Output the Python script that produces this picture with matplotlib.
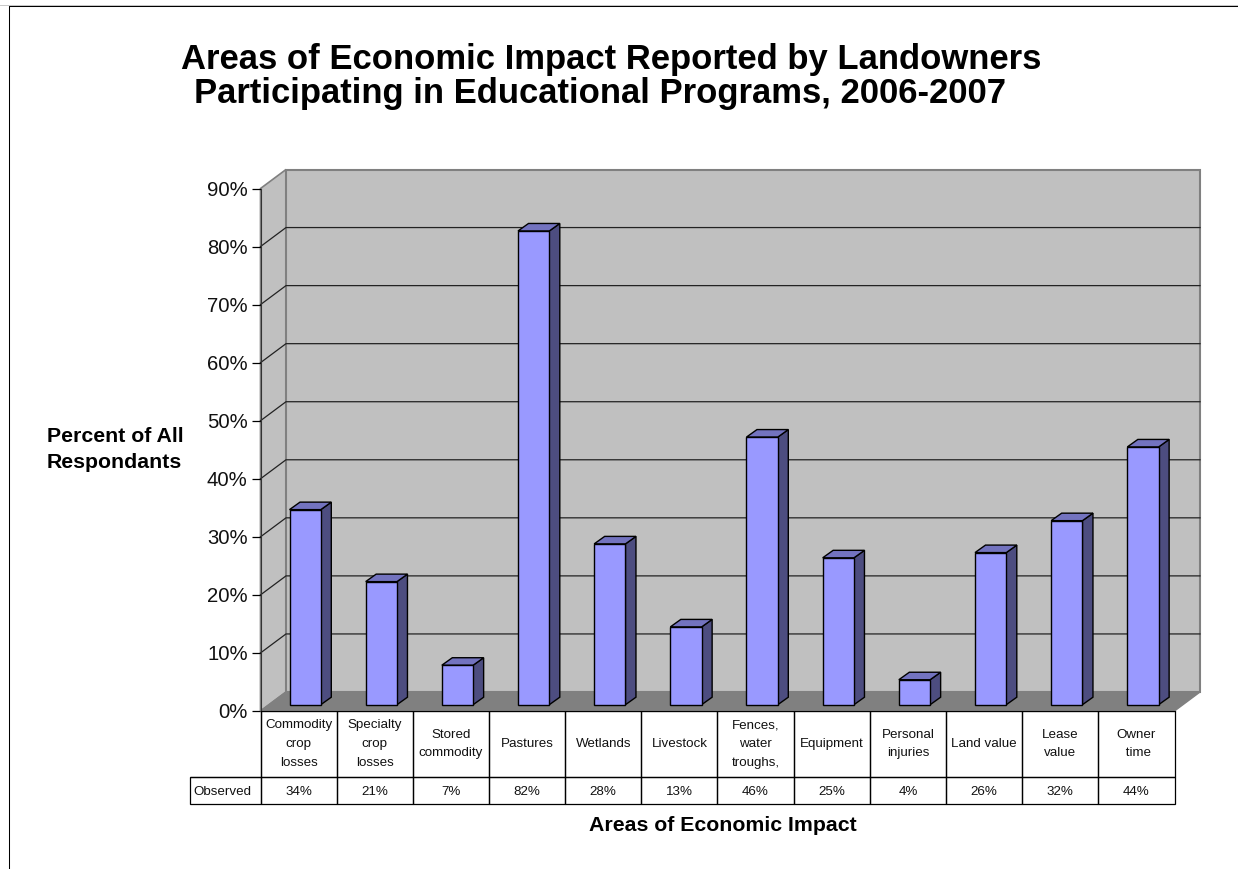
#!/usr/bin/python3
import matplotlib
matplotlib.use('Agg')
import matplotlib.pyplot as plt
from matplotlib.lines import Line2D

plt.rcParams['font.family'] = ['Liberation Sans', 'DejaVu Sans']

categories = ['Commodity\ncrop\nlosses', 'Specialty\ncrop\nlosses', 'Stored\ncommodity',
              'Pastures', 'Wetlands', 'Livestock', 'Fences,\nwater\ntroughs,',
              'Equipment', 'Personal\ninjuries', 'Land value', 'Lease\nvalue', 'Owner\n time']
observed = [33.6, 21.2, 6.8, 81.6, 27.7, 13.4, 46.1, 25.3, 4.3, 26.2, 31.7, 44.4]
observed_labels = ['34%', '21%', '7%', '82%', '28%', '13%', '46%', '25%', '4%', '26%', '32%', '44%']
yticks = list(range(0, 100, 10))

W, H = 1238, 869
fig = plt.figure(figsize=(W/100, H/100), dpi=100, facecolor='white')

# plot box is the front edge of the 3d box, in pixels
left, right, top, bottom = 260.5, 1174.5, 188.5, 711
ax = fig.add_axes([left/W, 1-bottom/H, (right-left)/W, (bottom-top)/H])
ax.set_xlim(0, 12)
ax.set_ylim(0, 90)

px = 12/(right-left)
py = 90/(bottom-top)
# wall depth and bar depth, in data units
dx, dy = 25.5*px, 19*py
bdx, bdy = 10.5*px, 7.5*py
bar_x0, bar_w = 29.0*px, 31.3*px
bar_y0 = 6.3*py

wall = '#C0C0C0'
wall_edge = '#808080'
ax.fill([0, dx, dx, 0], [0, dy, 90+dy, 90], fc=wall, ec=wall_edge, lw=1.2, zorder=1, clip_on=False)
ax.fill([dx, 12+dx, 12+dx, dx], [dy, dy, 90+dy, 90+dy], fc=wall, ec=wall_edge, lw=1.5, zorder=1, clip_on=False)
ax.fill([0, 12, 12+dx, dx], [0, 0, dy, dy], fc='#808080', ec='#808080', lw=1, zorder=2, clip_on=False)

for t in yticks[1:-1]:
    ax.plot([0, dx, 12+dx], [t, t+dy, t+dy], color='#222222', lw=0.9, zorder=2, clip_on=False)

for i, v in enumerate(observed):
    x0 = i + bar_x0
    x1 = x0 + bar_w
    y0 = bar_y0
    y1 = y0 + v
    ax.fill([x1, x1+bdx, x1+bdx, x1], [y0, y0+bdy, y1+bdy, y1], fc='#4D4D80', ec='black', lw=1, zorder=3, clip_on=False)
    ax.fill([x0, x1, x1+bdx, x0+bdx], [y1, y1, y1+bdy, y1+bdy], fc='#7373BF', ec='black', lw=1, zorder=3, clip_on=False)
    ax.fill([x0, x1, x1, x0], [y0, y0, y1, y1], fc='#9999FF', ec='black', lw=1, zorder=4, clip_on=False)

for s in ['top', 'right']:
    ax.spines[s].set_visible(False)
ax.spines['left'].set_color('#333333')
ax.spines['bottom'].set_color('black')
ax.spines['left'].set_zorder(5)
ax.spines['bottom'].set_zorder(5)
ax.set_xticks([])
ax.set_yticks(yticks)
ax.set_yticklabels([f'{t}%' for t in yticks], fontsize=14.6, color='#111111', va='center_baseline')
ax.tick_params(axis='y', length=6.6, width=0.9, pad=2.6, color='black')

# data table under the axis
label_w = (left-189.7)/(right-left)*12
rows = [[''] + categories, ['Observed'] + observed_labels]
tb = ax.table(cellText=rows, cellLoc='center',
              colWidths=[label_w] + [1]*12,
              bbox=[-label_w/12, -(803.5-bottom)/(bottom-top), 1+label_w/12, (803.5-bottom)/(bottom-top)])
tb.auto_set_font_size(False)
for (r, c), cell in tb.get_celld().items():
    cell.set_height(66 if r == 0 else 26.5)
    cell.set_linewidth(0.9)
    cell.set_edgecolor('black')
    cell.set_facecolor('none')
    cell.get_text().set_fontsize(9.6)
    cell.get_text().set_color('#111111')
    cell.get_text().set_linespacing(1.75)
    if r == 1:
        cell.get_text().set_va('center_baseline')
    cell.PAD = 0.02
tb[0, 0].visible_edges = 'BR'
tb[1, 0].get_text().set_ha('left')
tb[1, 0].PAD = 0.05

fig.text(611/W, 1-59/H, 'Areas of Economic Impact Reported by Landowners',
         ha='center', va='center', fontsize=24.95, fontweight='bold', color='black')
fig.text(600.5/W, 1-93/H, 'Participating in Educational Programs, 2006-2007',
         ha='center', va='center', fontsize=24.95, fontweight='bold', color='black')
fig.text(47/W, 1-449.5/H, 'Percent of All\nRespondants', ha='left', va='center',
         fontsize=15.3, fontweight='bold', linespacing=1.47)
fig.text(723/W, 1-825.5/H, 'Areas of Economic Impact', ha='center', va='center',
         fontsize=15.3, fontweight='bold')

# chart area border, right and bottom run off the picture
fig.add_artist(Line2D([0, 1], [1-4.5/H, 1-4.5/H], color='#C8C8C8', lw=0.7))
fig.add_artist(Line2D([8.5/W, 8.5/W, 1], [0, 1-5.5/H, 1-5.5/H], color='black', lw=0.75))

fig.savefig('out.png', dpi=100)
